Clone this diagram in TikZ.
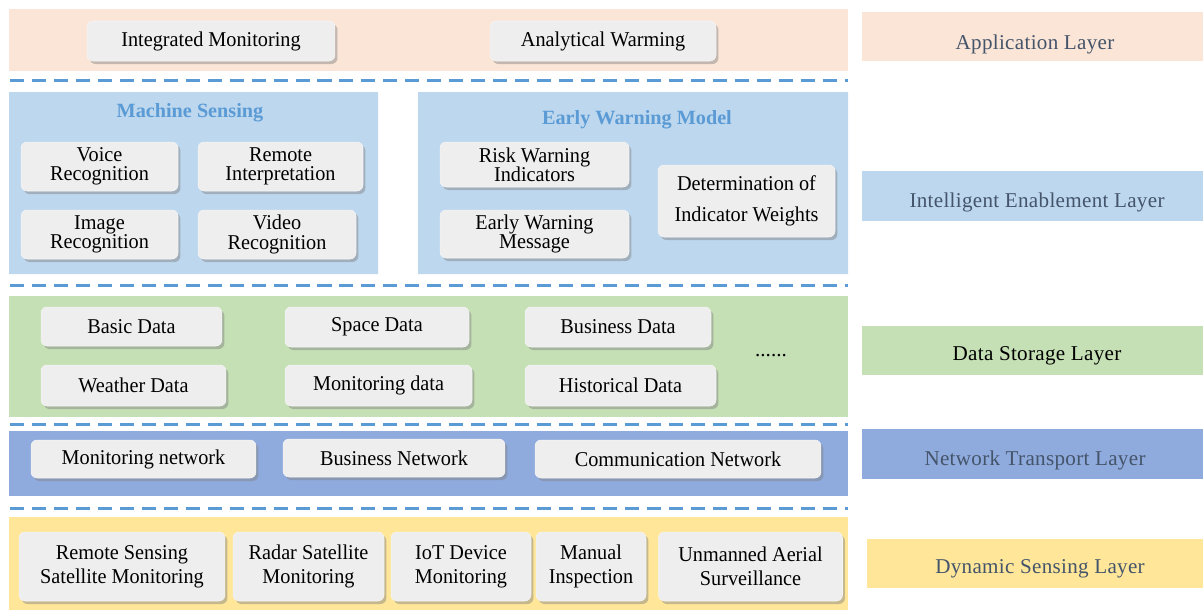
\documentclass[tikz,border=0pt]{standalone}
\usepackage{fontspec}
\setmainfont{Liberation Serif}
\usetikzlibrary{shadows}
\definecolor{appC}{HTML}{FBE5D6}
\definecolor{intC}{HTML}{BDD7EE}
\definecolor{datC}{HTML}{C5E0B4}
\definecolor{netC}{HTML}{8FAADC}
\definecolor{dynC}{HTML}{FFE699}
\definecolor{dashC}{HTML}{5B9BD5}
\definecolor{labC}{HTML}{44546A}
\tikzset{
    item/.style={rounded corners=1.2mm,fill=gray!13,draw=gray!8,line width=0.3pt,align=center,inner sep=1pt,
        font=\fontsize{12}{11}\selectfont\addfontfeature{FakeStretch=0.96},
        drop shadow={shadow xshift=0.5mm,shadow yshift=-0.6mm,opacity=0.45}},
    loose/.style={font=\fontsize{12}{#1}\selectfont\addfontfeature{FakeStretch=0.96}},
    sep/.style={dashC,line width=1.7pt,dash pattern=on 8pt off 4.5pt},
    tag/.style={text=labC,font=\fontsize{12}{14}\selectfont\addfontfeature{LetterSpace=1.5}},
    head/.style={text=dashC,font=\bfseries\fontsize{11.5}{13}\selectfont},
}
\begin{document}
\begin{tikzpicture}[x=0.02cm,y=-0.02cm]
                \useasboundingbox(0,0)rectangle(1203,610);
                % layer bands
                \fill[appC](9,9)rectangle(848,71);
                \fill[intC](9,92)rectangle(378,274)(418,92)rectangle(848,274);
                \fill[datC](9,296)rectangle(848,417);
                \fill[netC](9,431)rectangle(848,496);
                \fill[dynC](9,517)rectangle(848,610);
                \draw[sep](10,80)--(848,80)(10,285)--(848,285)(10,424)--(848,424)(10,508)--(848,508);
                % application
                \node[item,minimum width=4.96cm,minimum height=0.8cm](intmon)at(211,41){Integrated Monitoring};
                \node[item,minimum width=4.52cm,minimum height=0.8cm](anawarn)at(603,41){Analytical Warming};
                % intelligent enablement
                \node[head](mshead)at(190,113){Machine Sensing};
                \node[item,minimum width=3.14cm,minimum height=0.98cm](voice)at(99.5,166.5){Voice\\Recognition};
                \node[item,minimum width=3.3cm,minimum height=0.98cm](remint)at(280.5,166.5){Remote\\Interpretation};
                \node[item,minimum width=3.14cm,minimum height=0.98cm](image)at(99.5,234.5){Image\\Recognition};
                \node[item,minimum width=3.16cm,minimum height=0.98cm](video)at(277,234.5){Video\\Recognition};
                \node[head](ewhead)at(637,120){Early Warning Model};
                \node[item,minimum width=3.78cm,minimum height=0.9cm](riskind)at(534.5,164.5){Risk Warning\\Indicators};
                \node[item,minimum width=3.78cm,minimum height=0.96cm](ewmsg)at(534.5,234){Early Warning\\Message};
                \node[item,loose=17.6,minimum width=3.54cm,minimum height=1.44cm](weights)at(746.5,201){Determination of\\Indicator Weights};
                % data storage
                \node[item,minimum width=3.62cm,minimum height=0.78cm](basic)at(131.5,326.5){Basic Data};
                \node[item,minimum width=3.68cm,minimum height=0.8cm](space)at(377,327){Space Data};
                \node[item,minimum width=3.72cm,minimum height=0.8cm](business)at(618,327){Business Data};
                \node[item,minimum width=3.7cm,minimum height=0.82cm](weather)at(133.5,385.5){Weather Data};
                \node[item,minimum width=3.74cm,minimum height=0.82cm](mondata)at(378.5,385.5){Monitoring data};
                \node[item,minimum width=3.82cm,minimum height=0.82cm](history)at(620.5,385.5){Historical Data};
                \node[font=\fontsize{12}{14}\selectfont](more)at(771,356){......};
                % network transport
                \node[item,minimum width=4.5cm,minimum height=0.76cm](monnet)at(143.5,459){Monitoring network};
                \node[item,minimum width=4.44cm,minimum height=0.76cm](busnet)at(394,458){Business Network};
                \node[item,minimum width=5.72cm,minimum height=0.76cm](comnet)at(678,459){Communication Network};
                % dynamic sensing
                \node[item,loose=13.6,minimum width=4.12cm,minimum height=1.38cm](rssat)at(122,566.5){Remote Sensing\\Satellite Monitoring};
                \node[item,loose=13.6,minimum width=3.02cm,minimum height=1.38cm](radar)at(308.5,566.5){Radar Satellite\\Monitoring};
                \node[item,loose=13.6,minimum width=2.8cm,minimum height=1.38cm](iot)at(461,566.5){IoT Device\\Monitoring};
                \node[item,loose=13.6,minimum width=2.2cm,minimum height=1.38cm](manual)at(591,566.5){Manual\\Inspection};
                \node[item,loose=13.6,minimum width=3.68cm,minimum height=1.38cm](uav)at(750.5,566.5){Unmanned Aerial\\Surveillance};
                % layer names
                \fill[appC](862,12)rectangle(1203,61);
                \fill[intC](862,171)rectangle(1203,221);
                \fill[datC](862,326)rectangle(1203,375);
                \fill[netC](862,429)rectangle(1203,479);
                \fill[dynC](867,539)rectangle(1203,588);
                \node[tag](applayer)at(1035,44){Application Layer};
                \node[tag](intlayer)at(1037,202){Intelligent Enablement Layer};
                \node[tag,text=black](datlayer)at(1037,356){Data Storage Layer};
                \node[tag](netlayer)at(1035,460){Network Transport Layer};
                \node[tag](dynlayer)at(1040,569){Dynamic Sensing Layer};
            \end{tikzpicture}
\end{document}
